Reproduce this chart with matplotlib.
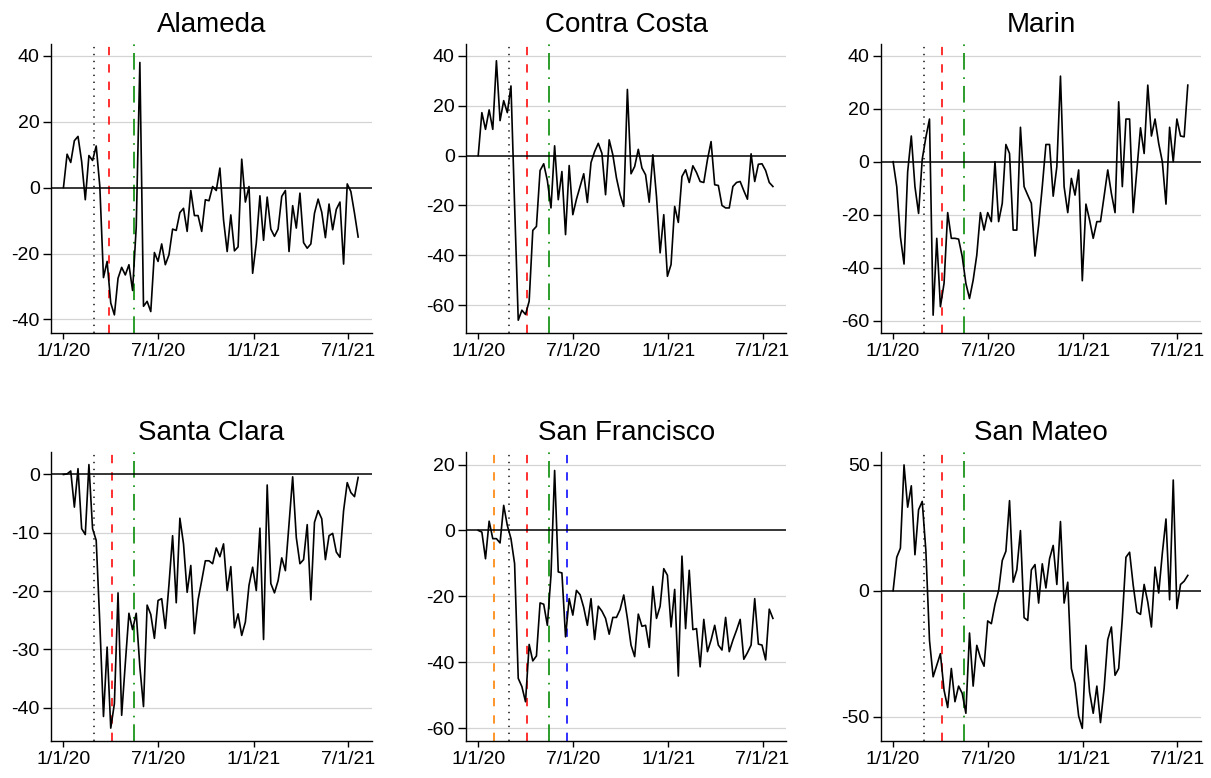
import matplotlib
matplotlib.use("Agg")
import matplotlib.pyplot as plt
import numpy as np
import pandas as pd

plt.rcParams.update({"font.family": ["Liberation Sans", "DejaVu Sans"],
                     "font.size": 14, "axes.unicode_minus": False,
                     "lines.scale_dashes": False})

# weekly series, 1/1/20 onward
weeks = pd.date_range("2020-01-01", periods=82, freq="7D")

alameda = [0, 10.1, 7.6, 14.2, 15.5, 7.9, -3.7, 9.7, 8.2, 12.6,
           0.3, -27.3, -22.4, -35, -38.6, -27.5, -24.2, -26.5, -23.4, -31.2,
           -12, 37.9, -36, -34.5, -37.6, -19.7, -22.4, -17.1, -23.4, -20.4,
           -12.6, -13, -7.6, -6.3, -13.3, -0.9, -8.5, -8.5, -13.3, -3.7,
           -4, 0.3, -0.9, 5.9, -9.8, -19.4, -8.3, -19.2, -18, 8.6,
           -4.4, 0.3, -26, -16.9, -2.5, -16, -2.9, -12.6, -14.8, -12.6,
           -2.7, -0.9, -19.4, -5.5, -12.3, -1.7, -16.7, -18.4, -17.1, -7.8,
           -3.5, -7.5, -15.2, -5, -12.8, -6.6, -4.4, -23.2, 1.1, -1.2,
           -7.8, -15]
contra_costa = [0, 17.2, 10.5, 18.3, 10.5, 38, 14, 22, 17.2, 27.9,
                -20, -66, -62, -63.7, -58.4, -30, -28.4, -6, -3.3, -10,
                -21, 3.9, -17.7, -6.4, -31.7, -4, -23.7, -17.5, -12.4, -7.3,
                -18.8, -2.8, 1.6, 4.9, 0.9, -15.7, 6.3, 0.3, -9, -15.7,
                -20.4, 26.5, -7.3, -4.4, 2.5, -5, -7.7, -18.7, 0.3, -16.4,
                -39, -23.7, -48.4, -43.7, -20.4, -26.8, -8.4, -5.7, -10.8, -4.1,
                -6.8, -10.4, -10.8, -1.7, 5.6, -11.7, -12, -20, -21, -21,
                -12.4, -10.8, -10.4, -14.1, -17.5, 0.7, -10.4, -3.5, -3.3, -6,
                -10.8, -12.4]
marin = [0, -9.4, -28.3, -38.6, -3.8, 9.7, -9.4, -19.5, 0.9, 9.2,
         16.1, -57.9, -28.9, -54.7, -45.9, -19.2, -28.9, -28.9, -29.2, -35.8,
         -45.9, -51.6, -44.7, -35.2, -19.2, -25.8, -19.2, -22.6, 0, -22.6,
         -15.7, 6.5, 3.1, -25.8, -25.8, 13, -9.4, -12.6, -15.7, -35.6,
         -23.9, -9.4, 6.5, 6.5, -13, -1.9, 32.3, -9.4, -19.2, -6.3,
         -12.6, -3.1, -44.9, -16, -22, -28.9, -22.6, -22.6, -13, -3.1,
         -12, -19.2, 22.6, -9.4, 16.1, 16.1, -19.2, -3.1, 12.8, 3.1,
         28.9, 9.7, 16.1, 6.9, 0, -16, 13, 0, 16.1, 9.7,
         9.4, 28.9]
santa_clara = [0, 0.1, 0.6, -5.6, 1, -9.3, -10.3, 1.7, -9.3, -11.3,
               -25.6, -41.5, -29.6, -43.5, -39.3, -20.3, -41.3, -32.4, -23.8, -26.6,
               -23.8, -33, -39.8, -22.4, -24, -28.1, -21.6, -21.3, -26.4, -18.9,
               -10.5, -22, -7.5, -11.9, -20.2, -15.6, -27.3, -21.5, -18.2, -14.8,
               -14.8, -15.3, -12.6, -14.1, -11.9, -19.9, -15.8, -26.3, -23.9, -27.6,
               -25.3, -19, -15.9, -19.9, -9.2, -28.3, -1.8, -18.7, -20.3, -18.2,
               -14.3, -16.5, -8.5, -0.4, -10.8, -15.3, -14.6, -8.6, -21.5, -8.2,
               -6.2, -7.6, -14.6, -10.5, -10.1, -13.3, -14.2, -6.2, -1.4, -3.1,
               -3.8, -0.5]
san_francisco = [0, -0.5, -8.6, 2.8, -2.5, -2.5, -3.8, 7.6, 1.5, -2.5,
                 -10.1, -44.9, -47.4, -52, -34.6, -39.6, -38.1, -22, -22.4, -28.8,
                 -13.6, 18.2, -12.6, -12.9, -32.3, -20.7, -25.7, -18.2, -19.5, -23.4,
                 -28.8, -20.7, -33.1, -23, -24.5, -26.7, -31.5, -26.4, -26.4, -24,
                 -19.6, -26.7, -34.8, -38.3, -25.4, -29.1, -28.8, -35.5, -17, -26.7,
                 -23, -11.6, -13.6, -29.3, -17.9, -44.2, -7.8, -29.8, -12.1, -30.1,
                 -29.8, -41.4, -27, -36.8, -33.3, -28.8, -34.8, -36.3, -26.4, -36.8,
                 -33.3, -30.3, -27, -39.1, -37.1, -34.8, -20.7, -34.5, -34.8, -39.3,
                 -23.9, -26.7]
san_mateo = [0, 13.3, 16.9, 50, 33.2, 41.7, 14.3, 32.2, 35.5, 16,
             -19.7, -34.2, -29.6, -25, -39.5, -46.4, -30.9, -44.1, -37.9, -40.8,
             -48.7, -16.8, -37.9, -21.7, -26.6, -30, -12, -13.1, -5.4, 0.1,
             12, 15.7, 35.8, 3.4, 8.3, 23.9, -10.7, -11.8, 8.3, 10.4,
             -4.9, 10.7, 1.1, 12.7, 18, 2.5, 27.5, -4.9, 3.4, -30.9,
             -36.9, -49.8, -54.7, -21.7, -40.2, -48.7, -37.9, -52.4, -38.8, -19.4,
             -14.4, -33.6, -30.9, -11.1, 13.3, 15.3, 2.1, -8.5, -9.4, 2.5,
             -4.5, -14.4, 9.4, -0.9, 14.9, 28.5, -3.6, 44, -7.1, 2.5,
             3.8, 6.1]

names = ["Alameda", "Contra Costa", "Marin", "Santa Clara", "San Francisco", "San Mateo"]
series = [alameda, contra_costa, marin, santa_clara, san_francisco, san_mateo]
yticks = [[-40, -20, 0, 20, 40], [-60, -40, -20, 0, 20, 40], [-60, -40, -20, 0, 20, 40],
          [-40, -30, -20, -10, 0], [-60, -40, -20, 0, 20], [-50, 0, 50]]
ylims = [(-44, 43.5), (-71, 44.7), (-64.5, 44.4), (-45.7, 3.8), (-63.9, 23.7), (-59.7, 55)]

# policy dates (vertical lines)
d_orange = pd.Timestamp("2020-02-01")
d_dotted = pd.Timestamp("2020-02-29")
d_red = [pd.Timestamp("2020-03-29")] + [pd.Timestamp("2020-04-04")] * 5
d_green = pd.Timestamp("2020-05-16")
d_blue = pd.Timestamp("2020-06-20")

xtick_dates = pd.to_datetime(["2020-01-01", "2020-07-01", "2021-01-01", "2021-07-01"])
xtick_labels = ["1/1/20", "7/1/20", "1/1/21", "7/1/21"]

fig = plt.figure(figsize=(12.11, 7.78), dpi=100)
lefts = [0.0421, 0.3846, 0.7272]
bottoms = [0.5724, 0.0476]
w, h = 0.2648, 0.371
dash = (0, (6, 6.5))

for i, (name, y) in enumerate(zip(names, series)):
    ax = fig.add_axes([lefts[i % 3], bottoms[i // 3], w, h])
    for t in yticks[i]:
        if t == 0:
            ax.axhline(0, color="black", lw=1.1, zorder=2)
        else:
            ax.axhline(t, color="#d4d4d4", lw=0.9, zorder=1)
    ax.axvline(d_dotted, color="#222222", lw=1.2, ls=(0, (1, 4)), zorder=1.5)
    ax.axvline(d_red[i], color="#ff2020", lw=1.3, ls=dash, zorder=1.5)
    ax.axvline(d_green, color="#1a951a", lw=1.3, ls=(0, (12, 5, 1.2, 5.5)), zorder=1.5)
    if name == "San Francisco":
        ax.axvline(d_orange, color="#ff8c1a", lw=1.3, ls=dash, zorder=1.5)
        ax.axvline(d_blue, color="#2020ff", lw=1.3, ls=dash, zorder=1.5)
    ax.plot(weeks, y, color="black", lw=1.2, zorder=3)

    ax.set_xlim(pd.Timestamp("2019-12-08"), pd.Timestamp("2021-08-16"))
    ax.set_ylim(*ylims[i])
    ax.set_yticks(yticks[i])
    ax.set_xticks(xtick_dates)
    ax.set_xticklabels(xtick_labels)
    ax.tick_params(axis="y", length=6, width=1, pad=2, labelsize=14)
    ax.tick_params(axis="x", length=4.5, width=1, pad=3, labelsize=14)
    for s in ["top", "right"]:
        ax.spines[s].set_visible(False)
    for s in ["left", "bottom"]:
        ax.spines[s].set_linewidth(1.0)
    ax.set_title(name, fontsize=20, pad=9)

fig.savefig("out.png", dpi=100)
